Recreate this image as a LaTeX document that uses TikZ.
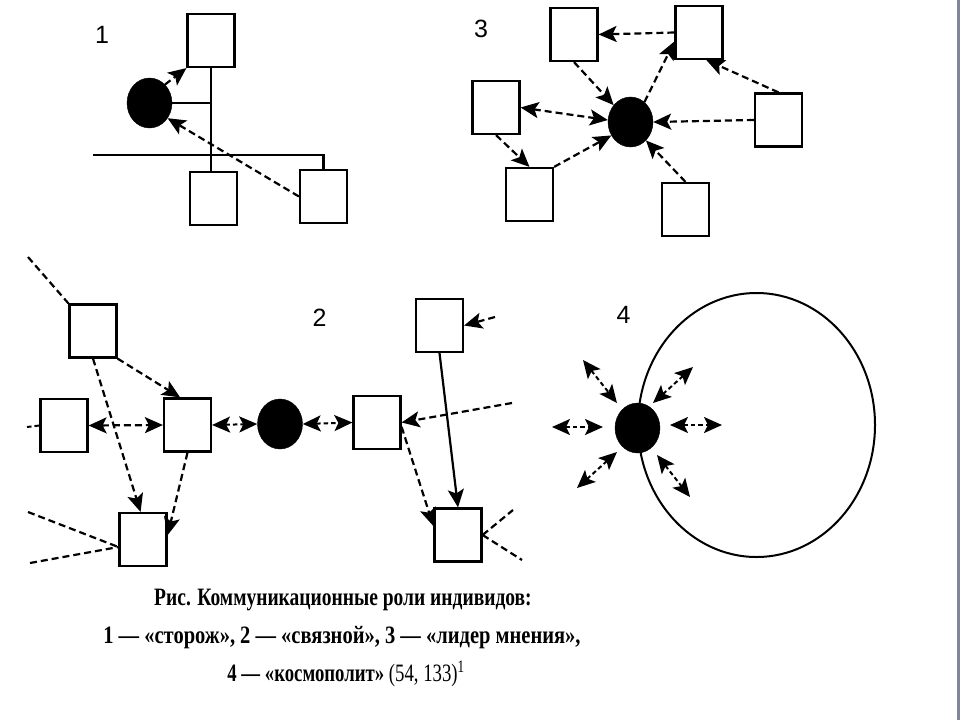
\documentclass[tikz,border=0pt]{standalone}
\usepackage{fontspec}
\usepackage{graphicx}
\setmainfont{Liberation Serif}
\newfontfamily\labelfont{Liberation Sans}
\usetikzlibrary{arrows.meta,shapes.geometric}
\definecolor{barcol}{RGB}{128,134,152}
\begin{document}
\begin{tikzpicture}[x=1pt,y=-1pt,
  sq/.style={draw, line width=2.2pt, minimum width=47pt, minimum height=53pt, inner sep=0pt},
  blob/.style={ellipse, fill=black, draw=black, minimum width=45pt, minimum height=50pt, inner sep=0pt},
  dl/.style={line width=2.2pt, dash pattern=on 7pt off 4pt},
  sdl/.style={line width=2pt, dash pattern=on 4.5pt off 3pt},
  sl/.style={line width=2.2pt},
  tip/.style={-{Stealth[length=18pt,width=16pt,inset=4pt]}},
  tips/.style={{Stealth[length=18pt,width=16pt,inset=4pt]}-{Stealth[length=18pt,width=16pt,inset=4pt]}},
  num/.style={font=\labelfont\fontsize{25}{25}\selectfont, inner sep=0pt},
  captxt/.style={font=\bfseries\fontsize{25}{25}\selectfont, inner sep=0pt},
]
\fill[white] (0,0) rectangle (960,720);
\useasboundingbox (0,0) rectangle (960,720);
\fill[barcol] (957,0) rectangle (960,720);

% ---------- Diagram 1 ----------
\node[num] (n1) at (102,35) {1};
\node[sq] (s1t) at (211,40.5) {};
\node[sq] (s1b) at (213.5,198.5) {};
\node[sq] (s1r) at (323.5,196.5) {};
\node[blob] (c1) at (149.5,103) {};
\coordinate (l1) at (93,155);
\draw[sl] (s1t.south) -- (s1t.south |- s1b.north);
\draw[sl] (c1.east) -- (c1.east -| s1t.south);
\draw[sl] (l1) -| (s1r.north);
\draw[dl,tip] (s1r.west) -- (c1.-40);
\draw[dl,tip] (c1.50) -- (s1t.south west);

% ---------- Diagram 3 ----------
\node[num] (n3) at (481,29) {3};
\node[sq] (s3tl) at (574,34.5) {};
\node[sq] (s3tr) at (699,32.5) {};
\node[sq] (s3l) at (496,107.5) {};
\node[sq] (s3r) at (778.5,120) {};
\node[sq] (s3bl) at (529.5,194.5) {};
\node[sq] (s3b) at (685.5,209.5) {};
\node[blob] (c3) at (630.5,122) {};
\draw[dl,tip] (s3tr.west) -- (s3tl.east);
\draw[dl,tip] (s3tl.south) -- (c3.135);
\draw[dl,tip] (c3.55) -- (s3tr.200);
\draw[dl,tip] (s3r.north) -- (s3tr.-75);
\draw[dl,tips] (s3l.east) -- (c3.175);
\draw[dl,tip] (s3l.south) -- (s3bl.north);
\draw[dl,tip] (s3bl.north east) -- (c3.215);
\draw[dl,tip] (s3r.west) -- (c3.east);
\draw[dl,tip] (s3b.north) -- (c3.-50);

% ---------- Diagram 2 ----------
\node[num] (n2) at (319.5,318) {2};
\node[sq] (s2a) at (93,331) {};
\node[sq] (s2b) at (64,425.5) {};
\node[sq] (s2c) at (187.5,425) {};
\node[sq] (s2d) at (143,539.5) {};
\node[blob] (c2) at (280,424) {};
\node[sq] (s2e) at (377,422.5) {};
\node[sq] (s2f) at (439.5,325.5) {};
\node[sq] (s2g) at (458,535) {};
\coordinate (e1) at (28,257);
\coordinate (e2) at (27,427);
\coordinate (e3) at (28,512);
\coordinate (e4) at (30,563);
\coordinate (e5) at (495,317);
\coordinate (e6) at (512,403);
\coordinate (e7) at (513,510);
\coordinate (e8) at (522,560);
\draw[dl] (e1) -- (s2a.north west);
\draw[dl,tip] (s2a.south east) -- (s2c.105);
\draw[dl,tip] (s2a.south) -- (s2d.95);
\draw[dl,tips] (s2b.east) -- (s2c.west);
\draw[sdl] (e2) -- (s2b.west);
\draw[dl,tip] (s2c.south) -- (s2d.10);
\draw[dl] (e3) -- (s2d.197);
\draw[dl] (e4) -- (s2d.197);
\draw[sdl,tips] (s2c.east) -- (c2.west);
\draw[sdl,tips] (c2.east) -- (s2e.west);
\draw[sl,tip] (s2f.south) -- (s2g.north);
\draw[dl,tip] (e5) -- (s2f.east);
\draw[dl,tip] (e6) -- (s2e.east);
\draw[dl,tip] (s2e.-10) -- (s2g.160);
\draw[dl] (s2g.east) -- (e7);
\draw[dl] (s2g.east) -- (e8);

% ---------- Diagram 4 ----------
\node[num] (n4) at (623.5,315) {4};
\draw[line width=2pt] (756.5,425) ellipse [x radius=118.5pt, y radius=132pt];
\node[blob] (c4) at (637.5,428) {};
\coordinate (a1s) at (552,427); \coordinate (a1e) at (603,427);
\coordinate (a2s) at (583,360); \coordinate (a2e) at (617,403);
\coordinate (a3s) at (577,488); \coordinate (a3e) at (617,452);
\coordinate (a4s) at (653,403); \coordinate (a4e) at (693,367);
\coordinate (a5s) at (670,425); \coordinate (a5e) at (722,425);
\coordinate (a6s) at (657,455); \coordinate (a6e) at (690,497);
\draw[sdl,tips] (a1s) -- (a1e);
\draw[sdl,tips] (a2s) -- (a2e);
\draw[sdl,tips] (a3s) -- (a3e);
\draw[sdl,tips] (a4s) -- (a4e);
\draw[sdl,tips] (a5s) -- (a5e);
\draw[sdl,tips] (a6s) -- (a6e);

% ---------- Caption ----------
\node[captxt] (cap1) at (343,600) {\scalebox{0.78}[1]{Рис. Коммуникационные роли индивидов:}};
\node[captxt] (cap2) at (342,638) {\scalebox{0.82}[1]{1 — «сторож», 2 — «связной», 3 — «лидер мнения»,}};
\node[captxt] (cap3) at (346,674) {\scalebox{0.75}[1]{4 — «космополит» {\mdseries (54, 133)\textsuperscript{1}}}};
\end{tikzpicture}
\end{document}
